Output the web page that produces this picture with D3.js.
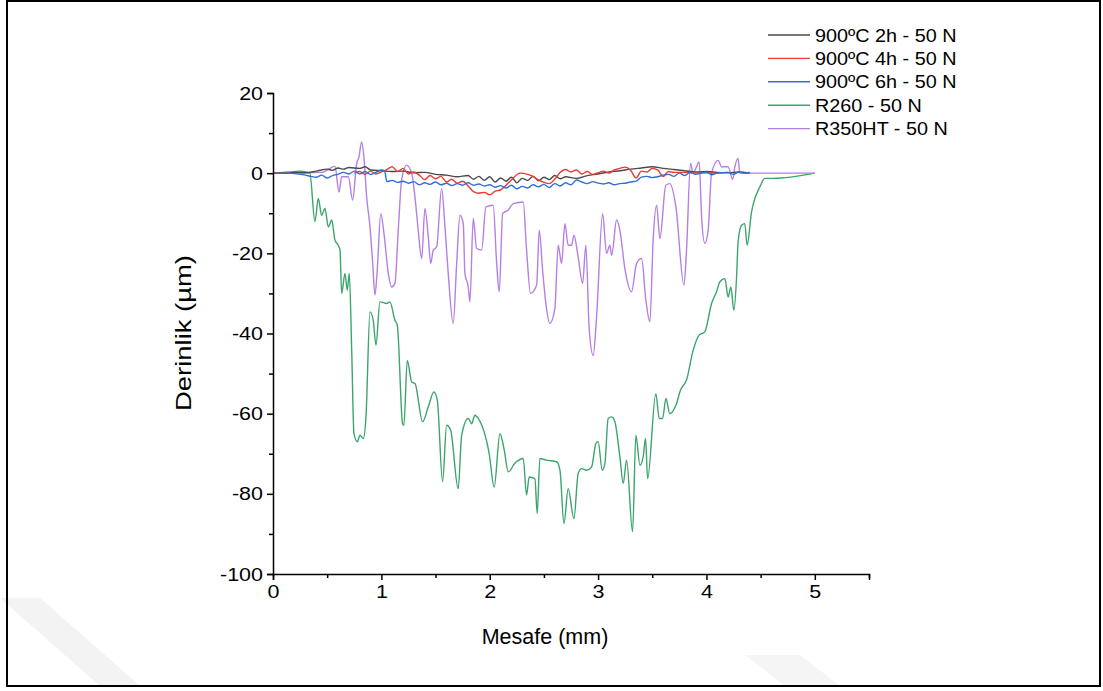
<!DOCTYPE html>
<html><head><meta charset="utf-8">
<script src="https://cdn.jsdelivr.net/npm/d3@7"></script>
<style>body{margin:0;background:#fff}svg{display:block}text{font-family:"Liberation Sans",Arial,sans-serif}</style>
</head><body><svg id="c" width="1103" height="691"></svg>
<script>
const seriesNames = ["900ºC 2h - 50 N","900ºC 4h - 50 N","900ºC 6h - 50 N","R260 - 50 N","R350HT - 50 N"];
const seriesColors = ["#4a4a4a","#ee3a34","#2f6fd8","#3ca56c","#b57fe3"];
const xTicks = [0,1,2,3,4,5];
const yTicks = [-100,-80,-60,-40,-20,0,20];

const gray2h = [[0,0],[0.15,0],[0.2,0.2],[0.3,0.1],[0.4,0.5],[0.5,1.0],[0.55,0.7],[0.6,1.3],[0.65,1.0],[0.7,1.4],[0.8,1.2],[0.85,1.6],[0.9,0.8],[1.0,0.6],[1.1,0.4],[1.2,0.5],[1.3,0.1],[1.4,0.2],[1.5,-0.3],[1.6,-0.5],[1.7,-0.9],[1.8,-0.6],[1.85,-1.5],[1.9,-0.8],[1.95,-1.8],[2.0,-0.9],[2.05,-2.2],[2.1,-1.2],[2.15,-2.0],[2.2,-1.0],[2.25,-2.4],[2.3,-1.3],[2.35,-1.8],[2.4,-0.8],[2.45,-1.9],[2.5,-1.0],[2.55,-1.6],[2.6,-0.6],[2.65,-1.4],[2.7,-0.9],[2.8,-1.3],[2.9,-0.6],[3.0,-0.2],[3.1,0.3],[3.2,0.6],[3.3,1.0],[3.4,1.3],[3.5,1.6],[3.6,1.2],[3.7,0.9],[3.8,0.6],[3.9,0.3],[4.0,0.4],[4.1,0.2],[4.2,0.1],[4.3,0.3],[4.4,0]];
const red4h = [[0.75,0],[0.8,0.4],[0.85,-0.3],[0.9,0.5],[0.95,-0.2],[1.0,0.3],[1.05,0.9],[1.1,1.6],[1.15,0.4],[1.2,1.2],[1.25,-0.2],[1.3,0.3],[1.35,-0.5],[1.4,-1.6],[1.45,-0.6],[1.5,-1.4],[1.55,-0.8],[1.6,-2.2],[1.65,-1.5],[1.7,-2.5],[1.75,-2.0],[1.8,-3.2],[1.85,-4.6],[1.9,-5.0],[1.95,-4.8],[2.0,-5.4],[2.05,-4.5],[2.1,-4.2],[2.15,-3.0],[2.2,-1.7],[2.28,0],[2.35,-0.3],[2.4,-0.8],[2.45,-1.7],[2.5,-2.3],[2.55,-2.6],[2.6,-1.5],[2.65,0.2],[2.7,0.9],[2.75,0.3],[2.8,0.8],[2.85,-0.2],[2.9,0.4],[2.95,-0.3],[3.0,0.1],[3.05,0.5],[3.1,0],[3.15,0.8],[3.2,1.2],[3.25,1.5],[3.3,0.7],[3.35,-1.2],[3.4,0.5],[3.45,0.3],[3.5,1.2],[3.55,0.8],[3.6,-0.8],[3.65,0.4],[3.7,0.2],[3.8,0.2],[3.9,0],[4.0,0.1],[4.1,0],[4.2,0.2]];
const blue6h = [[0.15,0],[0.3,-0.5],[0.35,-0.8],[0.4,-1.0],[0.45,-0.5],[0.5,-1.2],[0.55,-0.6],[0.6,-0.3],[0.65,0.2],[0.7,-0.2],[0.75,0.5],[0.8,-0.2],[0.85,0.4],[0.9,-0.3],[0.95,0.2],[1.0,0.8],[1.03,0.6],[1.05,-2.1],[1.1,-1.8],[1.15,-2.3],[1.2,-2.0],[1.25,-2.5],[1.3,-2.1],[1.35,-2.9],[1.4,-2.4],[1.45,-2.8],[1.5,-2.2],[1.55,-2.9],[1.6,-2.5],[1.65,-3.1],[1.7,-2.6],[1.75,-3.0],[1.8,-2.4],[1.85,-3.0],[1.9,-2.7],[1.95,-3.2],[2.0,-2.9],[2.05,-3.5],[2.1,-3.1],[2.15,-3.7],[2.2,-3.0],[2.25,-3.9],[2.3,-3.3],[2.35,-3.7],[2.4,-2.9],[2.45,-3.4],[2.5,-2.8],[2.55,-3.6],[2.6,-2.6],[2.65,-3.2],[2.7,-2.4],[2.75,-2.9],[2.8,-1.7],[2.85,-2.2],[2.9,-2.6],[2.95,-2.1],[3.0,-2.5],[3.05,-2.7],[3.1,-2.4],[3.15,-2.9],[3.2,-2.6],[3.25,-2.5],[3.3,-2.2],[3.35,-2.0],[3.4,-1.0],[3.45,-0.8],[3.5,-1.1],[3.55,-0.9],[3.6,-0.5],[3.65,-0.3],[3.7,-0.8],[3.75,0],[3.8,-0.6],[3.85,0.2],[3.9,-0.3],[3.95,0],[4.0,0.3],[4.05,-0.4],[4.1,0],[4.2,0.2],[4.25,-0.3],[4.3,0.3],[4.35,0],[4.4,0.2]];
const greenR260 = [[0,0],[0.15,0.3],[0.25,0.5],[0.34,0],[0.387,-12.1],[0.418,-6.3],[0.449,-10.5],[0.48,-8.8],[0.51,-13.4],[0.542,-11.7],[0.572,-16.7],[0.602,-18],[0.618,-19.2],[0.634,-30],[0.664,-25],[0.685,-29.2],[0.704,-25],[0.726,-44],[0.747,-65],[0.778,-67],[0.803,-65.4],[0.833,-66.2],[0.858,-60.8],[0.895,-34.6],[0.925,-36.7],[0.95,-42.9],[0.987,-32.1],[1.049,-32.5],[1.079,-32.1],[1.125,-36.7],[1.147,-37.9],[1.196,-62.5],[1.208,-62.9],[1.239,-46.7],[1.28,-52.1],[1.31,-52.5],[1.381,-62],[1.433,-58.3],[1.485,-54.6],[1.516,-56.6],[1.565,-77],[1.602,-62.9],[1.639,-64.1],[1.709,-78.7],[1.741,-65.4],[1.802,-61.2],[1.833,-62.5],[1.863,-60.4],[1.894,-61.2],[1.995,-70],[2.041,-78.3],[2.094,-65],[2.134,-69.1],[2.171,-74.5],[2.232,-72.4],[2.309,-71.2],[2.34,-80.3],[2.364,-75.8],[2.417,-76.2],[2.438,-84.9],[2.463,-71.2],[2.525,-71.6],[2.617,-72],[2.648,-74.1],[2.685,-87.4],[2.724,-78.7],[2.777,-86.2],[2.816,-74.9],[2.848,-73.7],[2.894,-74.1],[2.94,-73.3],[2.98,-67.4],[3.001,-67],[3.038,-74.1],[3.063,-72.4],[3.093,-61.2],[3.125,-60.8],[3.155,-62],[3.201,-70.8],[3.232,-77.4],[3.263,-71.6],[3.318,-89.5],[3.349,-65.4],[3.386,-72.9],[3.416,-70.8],[3.438,-66.2],[3.457,-76.2],[3.533,-55],[3.564,-61.2],[3.595,-61.2],[3.626,-56.2],[3.662,-60],[3.718,-57.9],[3.761,-54.1],[3.816,-51.6],[3.877,-44.2],[3.933,-40.4],[3.985,-39.6],[4.047,-32.5],[4.093,-29.6],[4.124,-27.1],[4.17,-26.3],[4.2,-30.9],[4.225,-28.4],[4.253,-34.2],[4.278,-25.9],[4.292,-17.1],[4.324,-13],[4.354,-12.6],[4.375,-18],[4.416,-9.7],[4.437,-7.2],[4.493,-3.4],[4.539,-1.3],[4.615,-1.3],[5.0,0]];
const purpleR350HT = [[0,0],[0.15,0],[0.45,0.2],[0.572,1.7],[0.609,-4.7],[0.634,-0.9],[0.695,-0.9],[0.735,-6.7],[0.772,2.4],[0.793,4],[0.818,7.8],[0.839,4],[0.864,-5.9],[0.895,-13.4],[0.92,-22.5],[0.941,-30.4],[0.962,-24.2],[0.994,-10.1],[1.024,-15],[1.064,-25],[1.095,-28.4],[1.125,-27.5],[1.156,-14.2],[1.187,-1.7],[1.233,2],[1.28,0],[1.31,-5.9],[1.34,-14.2],[1.372,-21.3],[1.402,-8.8],[1.433,-15.9],[1.455,-22.5],[1.479,-19.2],[1.51,-18.4],[1.556,-3.8],[1.587,-13.4],[1.617,-25],[1.663,-37.5],[1.695,-22.5],[1.725,-10.5],[1.756,-12.6],[1.771,-25],[1.802,-28.4],[1.817,-32.1],[1.848,-11.3],[1.879,-18.8],[1.925,-19.2],[1.965,-8.4],[2.032,-8],[2.064,-22.5],[2.088,-29.6],[2.119,-10.1],[2.171,-9.2],[2.217,-7.6],[2.309,-7.2],[2.34,-19.2],[2.377,-30],[2.433,-27.9],[2.457,-14.2],[2.488,-24.2],[2.518,-32.5],[2.555,-37.5],[2.601,-33.8],[2.632,-18],[2.663,-22.5],[2.694,-12.6],[2.724,-18],[2.755,-18],[2.777,-15.5],[2.816,-20.9],[2.857,-27.5],[2.887,-18],[2.918,-38.8],[2.955,-45.5],[2.986,-35.9],[3.042,-10.1],[3.078,-20],[3.109,-18],[3.125,-20.5],[3.171,-11.7],[3.201,-14.2],[3.247,-23.8],[3.309,-29.6],[3.355,-22.5],[3.401,-21.3],[3.441,-31.7],[3.478,-37.1],[3.508,-16.7],[3.54,-8],[3.57,-16.3],[3.625,-3],[3.662,-2.6],[3.718,-8.4],[3.792,-27.9],[3.816,-19.2],[3.853,2.4],[3.877,0],[3.933,2.8],[3.955,-10.9],[3.985,-17.5],[4.016,-14.2],[4.047,0],[4.108,3.2],[4.139,1.6],[4.2,1.6],[4.241,-1.6],[4.262,1.6],[4.292,3.7],[4.308,0],[5.0,0]];

const allSeries = [gray2h, red4h, blue6h, greenR260, purpleR350HT];

function stretch(sel, f){
  sel.each(function(){
    const w = this.getComputedTextLength();
    d3.select(this).attr("textLength", w*f).attr("lengthAdjust","spacingAndGlyphs");
  });
}

const svg = d3.select("#c");
svg.append("polygon").attr("points","0,598 40,598 140,686 100,686").attr("fill","#f3f3f3");
svg.append("polygon").attr("points","745,655 800,655 840,686 785,686").attr("fill","#f5f5f5");
svg.append("rect").attr("x",7).attr("y",1).attr("width",1093).attr("height",685)
  .attr("fill","none").attr("stroke","#000").attr("stroke-width",2);

const x = d3.scaleLinear().domain([0,5.5]).range([273,869]);
const y = d3.scaleLinear().domain([-100,20]).range([574,93]);

const line = d3.line().x(d=>x(d[0])).y(d=>y(d[1])).curve(d3.curveMonotoneX);
[3,4,0,1,2].forEach(i=>{
  svg.append("path").datum(allSeries[i]).attr("d",line)
    .attr("fill","none").attr("stroke",seriesColors[i]).attr("stroke-width",1.4)
    .attr("stroke-linejoin","round");
});

const fmt = d => String(d);
const xAxis = d3.axisBottom(x).tickValues(xTicks).tickFormat(fmt).tickSizeOuter(0).tickSize(6).tickPadding(5);
svg.append("g").attr("transform","translate(0,574)").call(xAxis);
const xMinor = d3.axisBottom(x).tickValues([0.5,1.5,2.5,3.5,4.5,5.5]).tickFormat("").tickSizeOuter(0).tickSize(4);
svg.append("g").attr("transform","translate(0,574)").call(xMinor).select(".domain").remove();
const yAxis = d3.axisLeft(y).tickValues(yTicks).tickFormat(fmt).tickSizeOuter(0).tickSize(6).tickPadding(4);
svg.append("g").attr("transform","translate(273,0)").call(yAxis);
const yMinor = d3.axisLeft(y).tickValues([-90,-70,-50,-30,-10,10]).tickFormat("").tickSizeOuter(0).tickSize(4);
svg.append("g").attr("transform","translate(273,0)").call(yMinor).select(".domain").remove();
svg.selectAll(".tick line").attr("stroke","#000").attr("stroke-width",1.5);
svg.selectAll(".domain").attr("stroke","#000").attr("stroke-width",1.5);
const tt = svg.selectAll(".tick text").attr("font-size",19).attr("fill","#000").style("font-family","'Liberation Sans',Arial,sans-serif");
stretch(tt, 1.13);

svg.append("text").attr("x",545).attr("y",644).attr("text-anchor","middle")
  .attr("font-size",21.5).text("Mesafe (mm)");
svg.append("text").attr("transform","translate(191,333) rotate(-90)").attr("text-anchor","middle")
  .attr("font-size",22).attr("textLength",156).attr("lengthAdjust","spacingAndGlyphs").text("Derinlik (µm)");

const lg = svg.append("g");
seriesNames.forEach((n,i)=>{
  const yy = 35 + i*23.4;
  lg.append("line").attr("x1",768).attr("x2",810).attr("y1",yy).attr("y2",yy)
    .attr("stroke",seriesColors[i]).attr("stroke-width",1.4);
  const t = lg.append("text").attr("x",815).attr("y",yy+6.5).attr("font-size",18).text(n);
  stretch(t, 1.1);
});
</script></body></html>
